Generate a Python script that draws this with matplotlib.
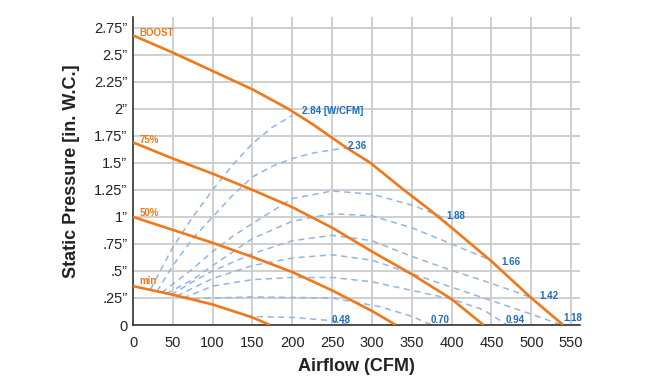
import matplotlib
matplotlib.use("Agg")
import matplotlib.pyplot as plt

# fan curves (airflow CFM, static pressure in. W.C.)
boost_x = [0, 50, 100, 150, 195, 225, 268, 298, 340, 370, 400, 450, 500, 540]
boost_y = [2.68, 2.52, 2.35, 2.18, 2.0, 1.86, 1.64, 1.50, 1.25, 1.08, 0.90, 0.59, 0.25, 0.0]
p75_x = [0, 50, 100, 150, 200, 250, 300, 350, 400, 440]
p75_y = [1.69, 1.54, 1.40, 1.25, 1.09, 0.90, 0.68, 0.47, 0.24, 0.0]
p50_x = [0, 50, 100, 150, 200, 250, 300, 330]
p50_y = [1.0, 0.88, 0.76, 0.63, 0.49, 0.32, 0.13, 0.0]
min_x = [0, 50, 100, 150, 172]
min_y = [0.36, 0.28, 0.19, 0.07, 0.0]

fan_curves = [
    ("BOOST", boost_x, boost_y, 2.70),
    ("75%", p75_x, p75_y, 1.71),
    ("50%", p50_x, p50_y, 1.04),
    ("min", min_x, min_y, 0.41),
]

# efficiency lines (W/CFM)
eff_labels = ["2.84 [W/CFM]", "2.36", "1.88", "1.66", "1.42", "1.18", "0.94", "0.70", "0.48"]
eff_x = [
    [22, 50, 75, 100, 125, 150, 175, 200],
    [30, 50, 75, 100, 125, 150, 175, 200, 225, 250, 268],
    [36, 75, 100, 125, 150, 200, 250, 300, 350, 385, 394],
    [42, 75, 100, 150, 200, 250, 300, 350, 400, 452],
    [48, 75, 100, 150, 200, 250, 300, 348, 398, 448, 498],
    [55, 100, 150, 200, 250, 300, 348, 398, 448, 498, 538],
    [63, 100, 150, 200, 250, 300, 350, 400, 440, 470],
    [76, 100, 150, 200, 250, 310, 350, 375],
    [142, 200, 250, 272],
]
eff_y = [
    [0.33, 0.72, 1.0, 1.25, 1.48, 1.68, 1.83, 1.94],
    [0.31, 0.55, 0.80, 1.0, 1.2, 1.37, 1.47, 1.54, 1.59, 1.62, 1.64],
    [0.30, 0.52, 0.68, 0.82, 0.94, 1.17, 1.24, 1.21, 1.11, 1.01, 0.95],
    [0.29, 0.42, 0.55, 0.80, 0.96, 1.03, 1.01, 0.90, 0.75, 0.59],
    [0.28, 0.40, 0.50, 0.66, 0.78, 0.83, 0.78, 0.64, 0.51, 0.39, 0.26],
    [0.27, 0.43, 0.55, 0.62, 0.65, 0.60, 0.48, 0.355, 0.23, 0.106, 0.0],
    [0.25, 0.36, 0.42, 0.44, 0.44, 0.40, 0.32, 0.24, 0.14, 0.0],
    [0.24, 0.25, 0.26, 0.255, 0.25, 0.17, 0.08, 0.0],
    [0.08, 0.07, 0.04, 0.0],
]
eff_label_pos = [(212, 1.98), (270, 1.66), (394, 1.01), (462, 0.58), (510, 0.27),
                 (540, 0.065), (468, 0.045), (374, 0.045), (249, 0.045)]

x_ticks = list(range(0, 551, 50))
y_ticks = [0, 0.25, 0.5, 0.75, 1.0, 1.25, 1.5, 1.75, 2.0, 2.25, 2.5, 2.75]
y_tick_labels = ["0", ".25\u201d", ".5\u201d", ".75\u201d", "1\u201d", "1.25\u201d", "1.5\u201d",
                 "1.75\u201d", "2\u201d", "2.25\u201d", "2.5\u201d", "2.75\u201d"]

ORANGE = "#f07818"
BLUE_LINE = "#94b4e2"
BLUE_TEXT = "#1b6cc0"

plt.rcParams['font.family'] = ["Liberation Sans", "DejaVu Sans"]

fig = plt.figure(figsize=(6.65, 3.8), dpi=100)
ax = fig.add_axes([0.2, 0.1447, 0.672, 0.8106])

for lx, ly in zip(eff_x, eff_y):
    ax.plot(lx, ly, color=BLUE_LINE, lw=1.1, linestyle=(0, (4, 3)), zorder=2)

for name, fx, fy, ty in fan_curves:
    ax.plot(fx, fy, color=ORANGE, lw=1.9, zorder=3, solid_capstyle='butt')
    ax.text(8, ty, name, color=ORANGE, fontsize=7, fontweight='bold',
            va='center', ha='left', zorder=4)

for lab, (tx, ty) in zip(eff_labels, eff_label_pos):
    ax.text(tx, ty, lab, color=BLUE_TEXT, fontsize=7, fontweight='bold',
            va='center', ha='left', zorder=4)

ax.set_xlim(0, 561)
ax.set_ylim(0, 2.85)
ax.set_xticks(x_ticks)
ax.set_yticks(y_ticks)
ax.set_yticklabels(y_tick_labels)
ax.tick_params(length=0, labelsize=10.5, colors="#222222")
ax.tick_params(axis='y', pad=4)
ax.tick_params(axis='x', pad=8)

ax.grid(True, color="#cccccc", lw=1.3)
ax.set_axisbelow(True)
for s in ["top", "right"]:
    ax.spines[s].set_visible(False)
for s in ["left", "bottom"]:
    ax.spines[s].set_color("#333333")
    ax.spines[s].set_linewidth(1.2)

ax.set_xlabel("Airflow (CFM)", fontsize=13, fontweight='bold', color="#222222", labelpad=6)
ax.set_ylabel("Static Pressure [in. W.C.]", fontsize=13, fontweight='bold', color="#222222", labelpad=10)

fig.savefig("out.png", dpi=100, facecolor="white")
